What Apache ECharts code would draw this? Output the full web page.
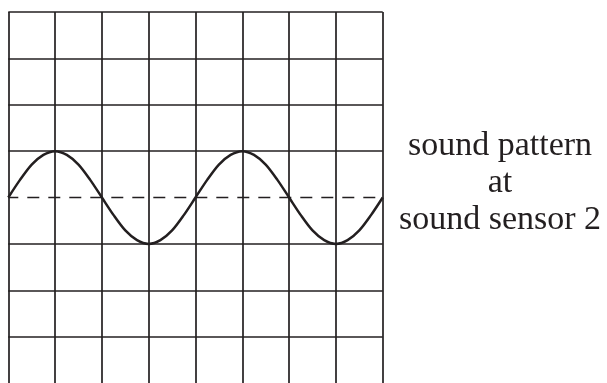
<!DOCTYPE html>
<html>
<head>
<meta charset="utf-8">
<script src="https://cdn.jsdelivr.net/npm/echarts@6/dist/echarts.min.js"></script>
<style>html,body{margin:0;padding:0;background:#fff;}#c{width:607px;height:383px;}</style>
</head>
<body>
<div id="c"></div>
<script>
// time in grid columns, amplitude in grid rows
var timeValues = [0,0.25,0.5,0.75,1,1.25,1.5,1.75,2,2.25,2.5,2.75,3,3.25,3.5,3.75,4,4.25,4.5,4.75,5,5.25,5.5,5.75,6,6.25,6.5,6.75,7,7.25,7.5,7.75,8];
var waveValues = [0,0.38,0.71,0.92,1,0.92,0.71,0.38,0,-0.38,-0.71,-0.92,-1,-0.92,-0.71,-0.38,0,0.38,0.71,0.92,1,0.92,0.71,0.38,0,-0.38,-0.71,-0.92,-1,-0.92,-0.71,-0.38,0];
var baselineX = [0, 8];
var baselineY = [0, 0];
var solidRows = [4, 3, 2, 1, -1, -2, -3];
var labelLines = ['sound pattern', 'at', 'sound sensor 2'];

var chart = echarts.init(document.getElementById('c'), null, {renderer: 'canvas'});
var ink = '#231f20';
var waveData = timeValues.map(function (t, i) { return [t, waveValues[i]]; });
var baseData = baselineX.map(function (t, i) { return [t, baselineY[i]]; });

chart.setOption({
  animation: false,
  backgroundColor: '#fff',
  grid: {left: 8.3, top: 12, width: 374.4, height: 374, containLabel: false},
  xAxis: {
    type: 'value', min: 0, max: 8, interval: 1,
    axisLine: {show: false}, axisTick: {show: false}, axisLabel: {show: false},
    splitLine: {show: true, lineStyle: {color: ink, width: 1.7}}
  },
  yAxis: {
    type: 'value', min: -4, max: 4, interval: 1,
    axisLine: {show: false}, axisTick: {show: false}, axisLabel: {show: false},
    splitLine: {show: false}
  },
  graphic: labelLines.map(function (s, i) {
    return {
      type: 'text', x: 500, y: 146 + i * 37,
      style: {text: s, fill: ink, font: '34px "Liberation Serif", serif', textAlign: 'center', textVerticalAlign: 'middle'}
    };
  }),
  series: [
    {
      type: 'line', data: baseData, symbol: 'none', silent: true,
      lineStyle: {color: ink, width: 1.5, type: [12, 9], dashOffset: 2},
      markLine: {
        silent: true, symbol: 'none', label: {show: false},
        lineStyle: {color: ink, width: 1.7, type: 'solid'},
        data: solidRows.map(function (r) { return {yAxis: r}; })
      }
    },
    {
      type: 'line', data: waveData, symbol: 'none', smooth: 0.3, silent: true,
      lineStyle: {color: ink, width: 2.5}
    }
  ]
});
</script>
</body>
</html>
